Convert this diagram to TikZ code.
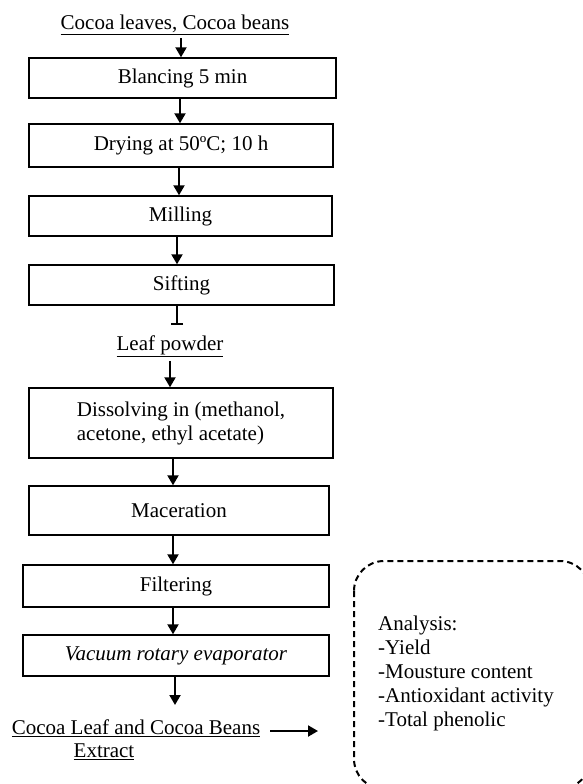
\documentclass[tikz,border=0pt]{standalone}
\usepackage{fontspec}
\setmainfont{Liberation Serif}
\usepackage{tikz}
\usetikzlibrary{arrows.meta}

\begin{document}
\begin{tikzpicture}[x=1pt,y=-1pt,
  font=\fontsize{21}{24}\selectfont,
  stepbox/.style={draw,line width=1.4pt,inner sep=0pt,minimum width=#1,align=center},
  arr/.style={line width=2pt,-{Triangle[length=10pt,width=11pt]}},
  plain/.style={inner sep=0pt}]
\useasboundingbox (0,0) rectangle (582,784);
\node[plain] (src) at (175,25) {\underline{Cocoa leaves, Cocoa beans}};
\node[stepbox=307pt,minimum height=40pt] (blanch) at (182.5,78) {Blancing 5 min};
\node[stepbox=304pt,minimum height=43pt] (dry) at (181,145.5) {Drying at 50ºC; 10 h};
\node[stepbox=303pt,minimum height=40pt] (mill) at (180.5,216) {Milling};
\node[stepbox=305pt,minimum height=40pt] (sift) at (181.5,285) {Sifting};
\coordinate (tee) at (177,325);
\node[plain] (powder) at (170,346) {\underline{Leaf powder}};
\node[stepbox=304pt,minimum height=70pt,align=left] (dissolve) at (181,423) {Dissolving in (methanol,\\acetone, ethyl acetate)};
\node[stepbox=300pt,minimum height=49pt] (macer) at (179,510.5) {Maceration};
\node[stepbox=306pt,minimum height=42pt] (filter) at (176,586) {Filtering};
\node[stepbox=306pt,minimum height=41pt] (evap) at (176,655.5) {\itshape Vacuum rotary evaporator};
\coordinate (evapout) at (175,705);
\node[plain] (extract) at (136,728) {\underline{Cocoa Leaf and Cocoa Beans}};
\node[plain] (extract2) at (104,752) {\underline{Extract}};
\coordinate (out) at (318,731);
\draw[line width=2pt,dash pattern=on 6pt off 4pt,rounded corners=30pt]
  (354,561) rectangle (590,789);
\node[plain,align=left,anchor=west] (analysis) at (378,673)
  {Analysis:\\-Yield\\-Mousture content\\-Antioxidant activity\\-Total phenolic};

\draw[arr] ([yshift=-3pt]src.south -| 181,0) -- (blanch.north -| 181,0);
\draw[arr] (blanch.south -| 180,0) -- (dry.north -| 180,0);
\draw[arr] (dry.south -| 179,0) -- (mill.north -| 179,0);
\draw[arr] (mill.south -| tee) -- (sift.north -| tee);
\draw[line width=2pt,-{Bar[width=12pt]}] (sift.south -| tee) -- (tee);
\draw[arr] ([yshift=-4pt]powder.south) -- (dissolve.north -| powder.south);
\draw[arr] (dissolve.south -| 173,0) -- (macer.north -| 173,0);
\draw[arr] (macer.south -| 173,0) -- (filter.north -| 173,0);
\draw[arr] (filter.south -| 173,0) -- (evap.north -| 173,0);
\draw[arr] (evap.south -| evapout) -- (evapout);
\draw[arr] ([xshift=10pt]extract.east |- out) -- (out);
\end{tikzpicture}
\end{document}
